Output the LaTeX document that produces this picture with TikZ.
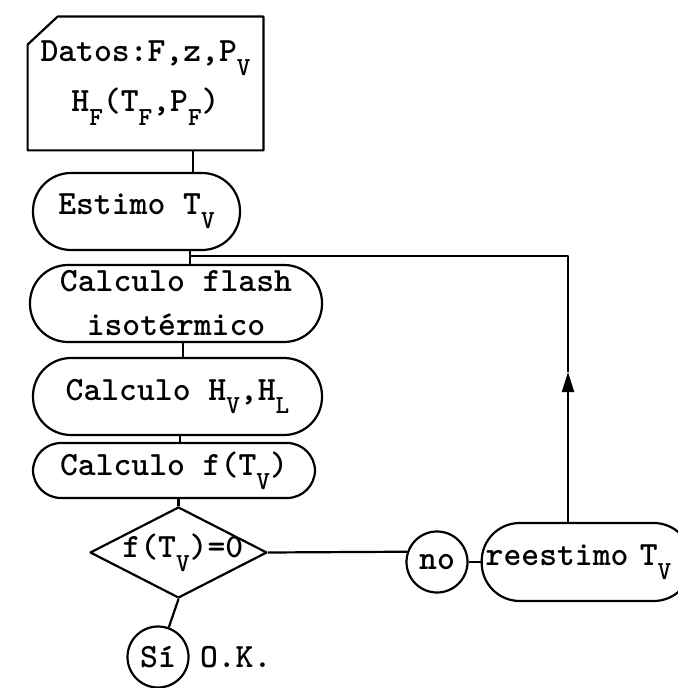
\documentclass[tikz,border=0pt]{standalone}
\usepackage{fontspec}
\usetikzlibrary{arrows.meta,positioning,shapes.geometric}
\newcommand{\subtxt}[1]{\raisebox{-0.95ex}{\fontsize{13}{13}\selectfont #1}}

\begin{document}
\begin{tikzpicture}[
  x=0.5pt, y=-0.5pt,
  every node/.style={font=\ttfamily\bfseries\fontsize{17}{22}\selectfont, inner sep=0pt},
  line/.style={line width=1.1pt, line join=round},
  box/.style={draw, line, rounded corners=19pt, minimum height=38.5pt, align=center},
  datbox/.style={minimum width=117.5pt, minimum height=66.5pt, align=center},
  ask/.style={draw, line, diamond, minimum width=88.5pt, minimum height=45.5pt},
  circ/.style={draw, line, circle, minimum size=30.5pt},
  arr/.style={line, -{Triangle[length=10pt,width=6pt]}}
]
\useasboundingbox (0,0) rectangle (677,688);

\node[datbox] (datos) at (145.5,83.5) {Datos:F,z,P\subtxt{V}\\[3pt] H\subtxt{F}(T\subtxt{F},P\subtxt{F})};
\draw[line] ([yshift=-14pt]datos.north west) -- ([xshift=15pt]datos.north west)
  -- (datos.north east) -- (datos.south east) -- (datos.south west) -- cycle;

\node[box, minimum width=103.5pt] (estimo) at (136.5,211.5) {Estimo T\subtxt{V}};
\node[box, minimum width=146pt] (flash) at (176,303.5) {Calculo flash\\isotérmico};
\node[box, minimum width=144.5pt] (hcalc) at (177.5,396.5) {Calculo H\subtxt{V},H\subtxt{L}};
\node[box, minimum width=141pt, minimum height=27.5pt, rounded corners=14pt] (fcalc) at (174,470.5) {Calculo f(T\subtxt{V})};

\node[ask] (decis) at (178.5,552.5) {};
\node[right=-73pt of decis.east] (decistxt) {f(T\subtxt{V})=0};

\node[circ] (si) at (158,657) {Sí};
\node[right=5pt of si] (ok) {O.K.};

\node[circ] (no) at (437,562) {no};
\node[box, right=6pt of no, minimum width=105pt, minimum height=39pt,
  text width=101pt, inner xsep=2pt, align=left] (reest) {reestimo T\subtxt{V}};

\coordinate (jn) at (190,256);
\coordinate (tip) at (568,372);
\coordinate (corner) at (568,256);

\draw[line] ([xshift=23.75pt]datos.south) -- ([xshift=23.75pt]datos.south |- estimo.north);
\draw[line] (estimo.south -| jn) -- (flash.north -| jn);
\draw[line] ([xshift=3.5pt]flash.south) -- ([xshift=3.5pt]flash.south |- hcalc.north);
\draw[line] ([xshift=1.25pt]hcalc.south) -- ([xshift=1.25pt]hcalc.south |- fcalc.north);
\draw[line] (fcalc.south -| decis.north) -- (decis.north);
\draw[line] (decis.south) -- (si.70);
\draw[line] (decis.east) -- (no.161);
\draw[line] (no.east) -- (reest.west);

\draw[arr] (reest.north -| tip) -- (tip);
\draw[line] (tip) -- (corner) -- (jn);

\end{tikzpicture}
\end{document}
